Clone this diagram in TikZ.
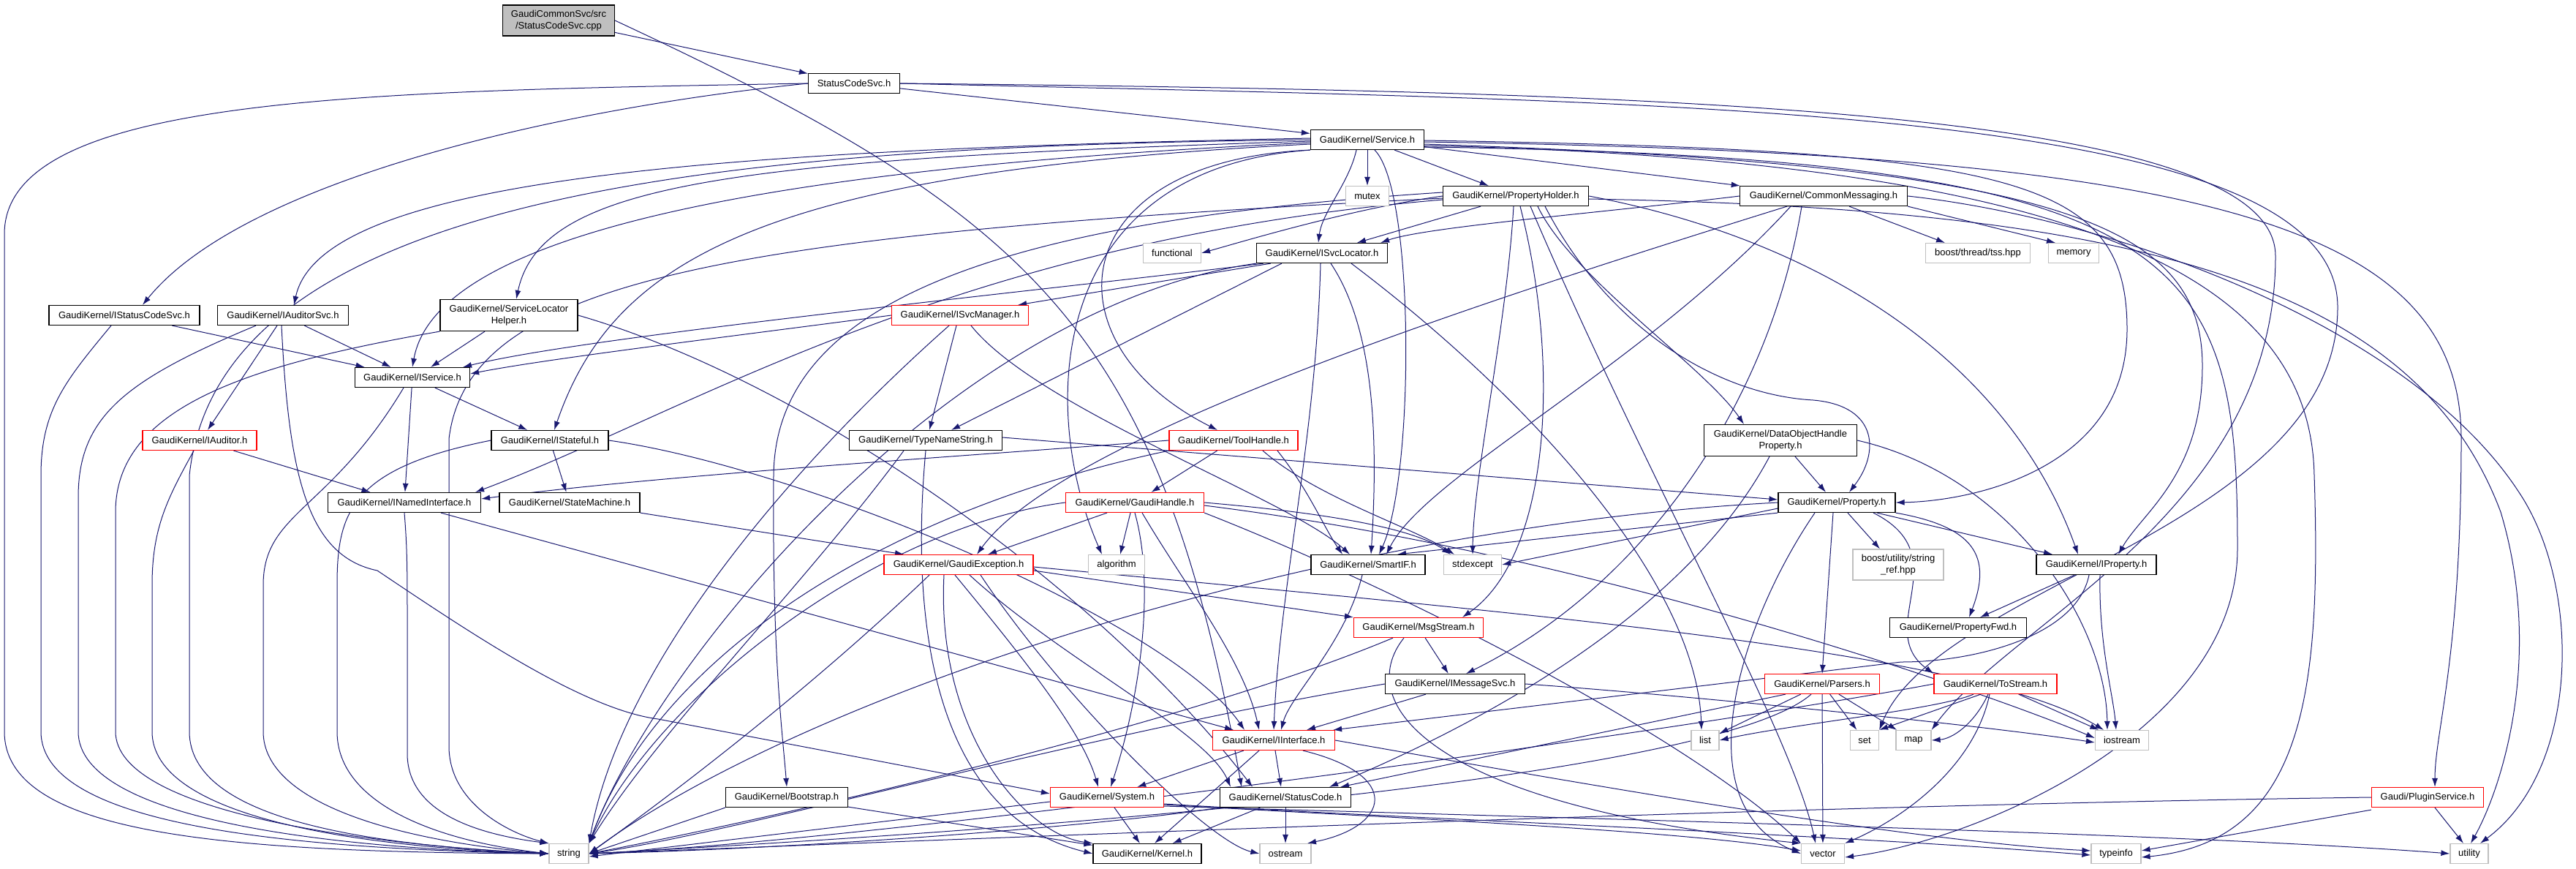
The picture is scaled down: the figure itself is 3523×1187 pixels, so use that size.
\documentclass[tikz,border=0pt]{standalone}
\usepackage{fontspec}
\setmainfont{Liberation Sans}
\usetikzlibrary{arrows.meta,backgrounds}
\definecolor{edgeblue}{HTML}{191970}
\definecolor{sysgray}{HTML}{BFBFBF}
\begin{document}
\begin{tikzpicture}[x=1pt, y=1pt,
    filenode/.style={draw=black, fill=white, line width=1.2pt, inner sep=0pt,
      minimum height=27pt, align=center, font=\fontsize{13}{16}\selectfont},
    rednode/.style={filenode, draw=red},
    sysnode/.style={filenode, draw=sysgray},
    rootnode/.style={filenode, fill=sysgray, minimum height=42pt},
    dep/.style={-{Latex[length=12pt, width=8pt]}, draw=edgeblue, line width=1pt}]
  \useasboundingbox (0,0) rectangle (3523,-1187);
  % Place nodes
  \node[rootnode, minimum width=153pt] (root) at (764,-28) {GaudiCommonSvc/src\\/StatusCodeSvc.cpp};
  \node[filenode, minimum width=125pt] (scsvch)      at (1168,-114) {StatusCodeSvc.h};
  \node[filenode, minimum width=155pt] (service)     at (1870,-191) {GaudiKernel/Service.h};
  \node[sysnode,  minimum width=59pt]  (mutex)       at (1870,-268) {mutex};
  \node[filenode, minimum width=199pt] (propholder)  at (2073,-268) {GaudiKernel/PropertyHolder.h};
  \node[filenode, minimum width=229pt] (commsg)      at (2494,-268) {GaudiKernel/CommonMessaging.h};
  \node[sysnode,  minimum width=79pt]  (functional)  at (1603,-346) {functional};
  \node[filenode, minimum width=179pt] (svcloc)      at (1808,-346) {GaudiKernel/ISvcLocator.h};
  \node[sysnode,  minimum width=143pt] (tss)         at (2705,-346) {boost/thread/tss.hpp};
  \node[sysnode,  minimum width=69pt]  (memory)      at (2836,-346) {memory};
  \node[filenode, minimum width=206pt] (istatus)     at (170,-431)  {GaudiKernel/IStatusCodeSvc.h};
  \node[filenode, minimum width=179pt] (iauditorsvc) at (387,-431)  {GaudiKernel/IAuditorSvc.h};
  \node[filenode, minimum width=188pt, minimum height=43pt] (slhelper) at (696,-431) {GaudiKernel/ServiceLocator\\Helper.h};
  \node[rednode,  minimum width=187pt] (isvcmgr)     at (1313,-431) {GaudiKernel/ISvcManager.h};
  \node[filenode, minimum width=157pt] (iservice)    at (564,-516)  {GaudiKernel/IService.h};
  \node[rednode,  minimum width=156pt] (iauditor)    at (273,-602)  {GaudiKernel/IAuditor.h};
  \node[filenode, minimum width=160pt] (istateful)   at (752,-602)  {GaudiKernel/IStateful.h};
  \node[filenode, minimum width=209pt] (typename)    at (1266,-602) {GaudiKernel/TypeNameString.h};
  \node[rednode,  minimum width=176pt] (toolhandle)  at (1687,-602) {GaudiKernel/ToolHandle.h};
  \node[filenode, minimum width=209pt, minimum height=43pt] (dohprop) at (2435,-602) {GaudiKernel/DataObjectHandle\\Property.h};
  \node[filenode, minimum width=209pt] (inamed)      at (553,-687)  {GaudiKernel/INamedInterface.h};
  \node[filenode, minimum width=192pt] (statemach)   at (779,-687)  {GaudiKernel/StateMachine.h};
  \node[rednode,  minimum width=189pt] (gaudihandle) at (1552,-687) {GaudiKernel/GaudiHandle.h};
  \node[filenode, minimum width=160pt] (property)    at (2512,-687) {GaudiKernel/Property.h};
  \node[rednode,  minimum width=204pt] (gexception)  at (1311,-772) {GaudiKernel/GaudiException.h};
  \node[sysnode,  minimum width=77pt]  (algorithm)   at (1527,-772) {algorithm};
  \node[filenode, minimum width=156pt] (smartif)     at (1871,-772) {GaudiKernel/SmartIF.h};
  \node[sysnode,  minimum width=79pt]  (stdexcept)   at (2014,-772) {stdexcept};
  \node[sysnode,  minimum width=124pt, minimum height=42pt] (stringref) at (2596,-772) {boost/utility/string\\\_ref.hpp};
  \node[filenode, minimum width=164pt] (iproperty)   at (2867,-772) {GaudiKernel/IProperty.h};
  \node[rednode,  minimum width=177pt] (msgstream)   at (1940,-858) {GaudiKernel/MsgStream.h};
  \node[filenode, minimum width=187pt] (propfwd)     at (2678,-858) {GaudiKernel/PropertyFwd.h};
  \node[filenode, minimum width=191pt] (imsgsvc)     at (1990,-935) {GaudiKernel/IMessageSvc.h};
  \node[rednode,  minimum width=157pt] (parsers)     at (2492,-935) {GaudiKernel/Parsers.h};
  \node[rednode,  minimum width=168pt] (tostream)    at (2729,-935) {GaudiKernel/ToStream.h};
  \node[rednode,  minimum width=167pt] (interface)   at (1742,-1012) {GaudiKernel/IInterface.h};
  \node[sysnode,  minimum width=38pt]  (list)        at (2332,-1012) {list};
  \node[sysnode,  minimum width=39pt]  (set)         at (2550,-1012) {set};
  \node[sysnode,  minimum width=48pt]  (map)         at (2617,-1012) {map};
  \node[sysnode,  minimum width=73pt]  (iostream)    at (2902,-1012) {iostream};
  \node[filenode, minimum width=167pt] (bootstrap)   at (1076,-1090) {GaudiKernel/Bootstrap.h};
  \node[rednode,  minimum width=155pt] (system)      at (1514,-1090) {GaudiKernel/System.h};
  \node[filenode, minimum width=179pt] (statuscode)  at (1758,-1090) {GaudiKernel/StatusCode.h};
  \node[rednode,  minimum width=153pt] (plugin)      at (3320,-1090) {Gaudi/PluginService.h};
  \node[sysnode,  minimum width=54pt]  (string)      at (778,-1167)  {string};
  \node[filenode, minimum width=148pt] (kernel)      at (1569,-1167) {GaudiKernel/Kernel.h};
  \node[sysnode,  minimum width=70pt]  (ostream)     at (1758,-1167) {ostream};
  \node[sysnode,  minimum width=59pt]  (vector)      at (2493,-1167) {vector};
  \node[sysnode,  minimum width=68pt]  (typeinfo)    at (2894,-1167) {typeinfo};
  \node[sysnode,  minimum width=52pt]  (utility)     at (3377,-1167) {utility};
  % Create edges
  \begin{scope}[on background layer]
  % From the source file
    \draw[dep] (root) -- (scsvch);
    \draw[dep] (root.east) .. controls (1418,-297) and (1587,-450) .. ([xshift=-60pt]statuscode.north);
  % StatusCodeSvc.h
    \draw[dep] (scsvch) -- (service);
    \draw[dep] (scsvch.west) .. controls (750,-150) and (330,-250) .. ([xshift=25pt]istatus.north);
    \draw[dep] (scsvch.west) .. controls (500,-125) and (6,-130) .. (6,-320) -- (6,-1000) .. controls (6,-1140) and (300,-1165) .. (string.west);
    \draw[dep] (scsvch.east) .. controls (2300,-140) and (3197,-140) .. (3197,-420) .. controls (3197,-720) and (2650,-800) .. (set.north east);
    \draw[dep] (scsvch.east) .. controls (2300,-125) and (3112,-150) .. (3112,-350) .. controls (3112,-700) and (2750,-850) .. (map.north east);
  % Service.h
    \draw[dep] (service) -- (mutex);
    \draw[dep] (service) -- (propholder);
    \draw[dep] (service) -- (commsg);
    \draw[dep] ([xshift=-15pt]service.south) .. controls (1845,-250) and (1808,-290) .. ([xshift=-5pt]svcloc.north);
    \draw[dep] ([yshift=2pt]service.west) .. controls (1000,-205) and (440,-240) .. ([xshift=15pt]iauditorsvc.north);
    \draw[dep] ([yshift=-2pt]service.west) .. controls (1000,-218) and (740,-250) .. ([xshift=10pt]slhelper.north);
    \draw[dep] ([yshift=-4pt]service.west) .. controls (1150,-225) and (600,-300) .. (iservice.north);
    \draw[dep] ([yshift=-6pt]service.west) .. controls (1050,-235) and (840,-350) .. ([xshift=6pt]istateful.north);
    \draw[dep] (service.south west) .. controls (1450,-220) and (1430,-470) .. ([xshift=-22pt]toolhandle.north);
    \draw[dep] (service.south west) .. controls (1430,-230) and (1420,-560) .. ([xshift=-20pt]algorithm.north);
    \draw[dep] ([xshift=10pt]service.south) .. controls (1935,-260) and (1935,-650) .. ([xshift=15pt]smartif.north);
    \draw[dep] ([yshift=-1pt]service.east) .. controls (2750,-205) and (2909,-240) .. (2909,-450) .. controls (2909,-640) and (2700,-685) .. (property.east);
    \draw[dep] ([yshift=-6pt]service.east) .. controls (2800,-225) and (3012,-300) .. (3012,-500) .. controls (3012,-650) and (2930,-700) .. ([xshift=30pt]iproperty.north);
    \draw[dep] ([yshift=-3pt]service.east) .. controls (3000,-210) and (3366,-300) .. (3366,-600) .. controls (3366,-900) and (3330,-1000) .. ([xshift=10pt]plugin.north);
    \draw[dep] ([yshift=-8pt]service.east) .. controls (2900,-220) and (3160,-400) .. (3165,-650) .. controls (3175,-950) and (3150,-1150) .. ([yshift=-5pt]typeinfo.east);
    \draw[dep] ([yshift=-10pt]service.east) .. controls (3000,-215) and (3060,-350) .. (3060,-750) .. controls (3060,-1000) and (2700,-1150) .. ([yshift=-5pt]vector.east);
    \draw[dep] (service.west) .. controls (1000,-200) and (300,-260) .. (259,-650) -- (259,-1000) .. controls (259,-1120) and (500,-1155) .. (string.west);
  % PropertyHolder.h
    \draw[dep] (propholder.west) .. controls (1850,-285) and (1700,-330) .. (functional.east);
    \draw[dep] (propholder) -- (svcloc);
    \draw[dep] ([yshift=-5pt]propholder.west) .. controls (1300,-330) and (950,-560) .. ([xshift=-8pt]inamed.north east);
    \draw[dep] ([xshift=30pt]propholder.south) .. controls (2150,-380) and (2330,-500) .. ([xshift=-50pt]dohprop.north);
    \draw[dep] ([xshift=40pt]propholder.south) .. controls (2200,-450) and (2350,-540) .. (2480,-547) .. controls (2570,-555) and (2570,-620) .. ([xshift=17pt]property.north);
    \draw[dep] (propholder.east) .. controls (2500,-330) and (2750,-500) .. ([xshift=-25pt]iproperty.north);
    \draw[dep] ([xshift=-3pt]propholder.south) .. controls (2060,-450) and (2015,-650) .. (stdexcept.north);
    \draw[dep] ([yshift=5pt]propholder.west) .. controls (1400,-300) and (1060,-400) .. (1058,-650) .. controls (1056,-900) and (1070,-1000) .. (bootstrap.north);
    \draw[dep] ([xshift=6pt]propholder.south) .. controls (2135,-500) and (2120,-760) .. ([xshift=60pt]msgstream.north);
    \draw[dep] ([xshift=20pt]propholder.south) .. controls (2250,-650) and (2450,-1000) .. ([xshift=-10pt]vector.north);
    \draw[dep] ([yshift=-3pt]propholder.west) .. controls (1000,-320) and (640,-380) .. (614,-600) -- (614,-1020) .. controls (614,-1100) and (700,-1140) .. (string.north west);
    \draw[dep] ([yshift=-4pt]propholder.east) .. controls (2900,-285) and (3300,-380) .. (3420,-700) .. controls (3480,-900) and (3420,-1080) .. ([xshift=2pt]utility.north);
  % CommonMessaging.h
    \draw[dep] (commsg.west) .. controls (2200,-290) and (1950,-310) .. ([xshift=-10pt]svcloc.north east);
    \draw[dep] ([xshift=35pt]commsg.south) -- ([xshift=-45pt]tss.north);
    \draw[dep] (commsg.south east) -- ([xshift=-25pt]memory.north);
    \draw[dep] ([xshift=-50pt]commsg.south) .. controls (2000,-420) and (1450,-600) .. ([xshift=25pt]gexception.north);
    \draw[dep] ([xshift=-30pt]commsg.south) .. controls (2420,-550) and (2250,-800) .. ([xshift=15pt]imsgsvc.north);
    \draw[dep] ([xshift=-45pt]commsg.south) .. controls (2250,-500) and (1950,-650) .. ([xshift=25pt]smartif.north);
    \draw[dep] (commsg.east) .. controls (2900,-300) and (3300,-450) .. (3445,-673) .. controls (3530,-800) and (3530,-1050) .. ([xshift=15pt]utility.north);
  % ISvcLocator.h
    \draw[dep] ([xshift=20pt]svcloc.south west) -- ([xshift=-15pt]isvcmgr.north east);
    \draw[dep] ([xshift=10pt]svcloc.south west) .. controls (1400,-400) and (800,-460) .. ([xshift=-10pt]iservice.north east);
    \draw[dep] ([xshift=35pt]svcloc.south west) -- ([xshift=35pt]typename.north);
    \draw[dep] ([xshift=12pt]svcloc.south) .. controls (1880,-450) and (1885,-600) .. ([xshift=4pt]smartif.north);
    \draw[dep] ([xshift=-2pt]svcloc.south) .. controls (1800,-600) and (1750,-800) .. (interface.north);
    \draw[dep] ([xshift=40pt]svcloc.south) .. controls (2100,-550) and (2320,-800) .. ([xshift=-5pt]list.north);
    \draw[dep] (svcloc.south west) .. controls (1300,-420) and (900,-900) .. (string.north east);
  % Left column
    \draw[dep] (istatus) -- (iservice);
    \draw[dep] ([xshift=-18pt]istatus.south) .. controls (90,-520) and (56,-560) .. (56,-650) -- (56,-1000) .. controls (56,-1130) and (400,-1160) .. (string.west);
    \draw[dep] (iauditorsvc) -- (iservice);
    \draw[dep] ([xshift=-8pt]iauditorsvc.south) -- ([xshift=11pt]iauditor.north);
    \draw[dep] ([xshift=-37pt]iauditorsvc.south) .. controls (170,-520) and (107,-570) .. (107,-680) -- (107,-1000) .. controls (107,-1120) and (450,-1160) .. (string.west);
    \draw[dep] ([xshift=-2pt]iauditorsvc.south) .. controls (395,-650) and (420,-760) .. (516,-780) .. controls (650,-870) and (800,-970) .. (900,-983) -- ([yshift=5pt]system.west);
    \draw[dep] ([xshift=-33pt]slhelper.south) -- ([xshift=25pt]iservice.north);
    \draw[dep] (slhelper.south west) .. controls (330,-500) and (158,-560) .. (158,-700) -- (158,-1000) .. controls (158,-1110) and (500,-1155) .. (string.west);
    \draw[dep] (slhelper.east) .. controls (1100,-520) and (1500,-800) .. ([xshift=-45pt]statuscode.north);
    \draw[dep] (isvcmgr.west) .. controls (1000,-460) and (750,-490) .. ([yshift=5pt]iservice.east);
    \draw[dep] ([xshift=-5pt]isvcmgr.south) -- ([xshift=5pt]typename.north);
    \draw[dep] ([xshift=15pt]isvcmgr.south) .. controls (1420,-560) and (1760,-680) .. ([xshift=-25pt]smartif.north);
    \draw[dep] ([xshift=-15pt]isvcmgr.south) .. controls (1100,-620) and (850,-900) .. (string.north east);
    \draw[dep] (iservice) -- (istateful);
    \draw[dep] (iservice) -- (inamed);
    \draw[dep] ([xshift=-12pt]iservice.south) .. controls (450,-700) and (360,-700) .. (360,-800) -- (360,-1000) .. controls (360,-1100) and (550,-1150) .. (string.west);
    \draw[dep] (iauditor) -- (inamed);
    \draw[dep] ([xshift=-8pt]iauditor.south) .. controls (230,-680) and (208,-720) .. (208,-800) -- (208,-1000) .. controls (208,-1115) and (480,-1158) .. (string.west);
    \draw[dep] (istateful) -- (statemach);
    \draw[dep] (istateful.east) .. controls (1100,-640) and (1600,-850) .. ([xshift=-40pt]interface.north);
    \draw[dep] (istateful.west) .. controls (480,-640) and (461,-700) .. (461,-800) -- (461,-1000) .. controls (461,-1100) and (600,-1150) .. (string.west);
  % Middle
    \draw[dep] ([yshift=4pt]typename.east) -- ([yshift=4pt]property.west);
    \draw[dep] (typename.south) .. controls (1240,-900) and (1300,-1120) .. (kernel.west);
    \draw[dep] ([xshift=-30pt]typename.south) .. controls (1100,-800) and (900,-1000) .. (string.north east);
    \draw[dep] (toolhandle) -- (gaudihandle);
    \draw[dep] (toolhandle.west) .. controls (1300,-625) and (900,-650) .. ([yshift=5pt]inamed.east);
    \draw[dep] ([xshift=60pt]toolhandle.south) .. controls (1790,-670) and (1810,-720) .. ([xshift=-35pt]smartif.north);
    \draw[dep] ([xshift=40pt]toolhandle.south) .. controls (1800,-680) and (1930,-720) .. ([xshift=-25pt]stdexcept.north);
    \draw[dep] (toolhandle.south west) .. controls (1200,-700) and (900,-900) .. (string.north east);
    \draw[dep] ([xshift=20pt]dohprop.south) -- ([xshift=-15pt]property.north);
    \draw[dep] ([xshift=-15pt]dohprop.south) .. controls (2300,-850) and (2000,-1000) .. ([xshift=60pt]statuscode.north);
    \draw[dep] (dohprop.east) .. controls (2750,-650) and (2880,-850) .. ([xshift=-20pt]iostream.north);
    \draw[dep] ([xshift=50pt]inamed.south) -- ([xshift=-55pt]interface.north);
    \draw[dep] (inamed.south) .. controls (557,-750) and (557,-780) .. (557,-850) -- (557,-1030) .. controls (557,-1110) and (650,-1140) .. (string.north west);
    \draw[dep] (statemach.south east) -- ([xshift=-75pt]gexception.north);
    \draw[dep] ([xshift=-38pt]gaudihandle.south) -- ([xshift=40pt]gexception.north);
    \draw[dep] ([xshift=-6pt]gaudihandle.south) -- ([xshift=5pt]algorithm.north);
    \draw[dep] (gaudihandle.east) .. controls (1800,-700) and (1930,-720) .. ([xshift=-30pt]stdexcept.north);
    \draw[dep] (gaudihandle.south) .. controls (1580,-800) and (1560,-950) .. ([xshift=5pt]system.north);
    \draw[dep] ([xshift=10pt]gaudihandle.south) .. controls (1620,-800) and (1700,-900) .. ([xshift=-20pt]interface.north);
    \draw[dep] ([yshift=-4pt]gaudihandle.east) .. controls (2200,-760) and (2750,-960) .. ([yshift=3pt]iostream.west);
    \draw[dep] (gaudihandle.south east) .. controls (1900,-800) and (2300,-1000) .. (vector.north west);
    \draw[dep] (gaudihandle.west) .. controls (1200,-720) and (900,-950) .. (string.north east);
  % Property.h
    \draw[dep] (property.south west) -- ([xshift=40pt]smartif.north);
    \draw[dep] ([yshift=-8pt]property.west) -- (stdexcept.east);
    \draw[dep] ([xshift=15pt]property.south) -- ([xshift=-25pt]stringref.north);
    \draw[dep] ([xshift=55pt]property.south) -- ([xshift=-60pt]iproperty.north);
    \draw[dep] (property.south east) .. controls (2700,-720) and (2725,-760) .. ([xshift=15pt]propfwd.north);
    \draw[dep] ([xshift=-5pt]property.south) -- (parsers.north);
    \draw[dep] ([xshift=50pt]property.south) .. controls (2680,-760) and (2560,-860) .. (tostream.north west);
    \draw[dep] (property.west) .. controls (1800,-720) and (1100,-950) .. (string.east);
    \draw[dep] ([xshift=-30pt]property.south) .. controls (2380,-850) and (2300,-1100) .. (vector.west);
  % GaudiException.h and lower
    \draw[dep] ([yshift=-8pt]gexception.east) -- (msgstream.north west);
    \draw[dep] ([xshift=-5pt]gexception.south) .. controls (1400,-900) and (1480,-1000) .. ([xshift=-12pt]system.north);
    \draw[dep] ([xshift=15pt]gexception.south) .. controls (1450,-900) and (1650,-1000) .. ([xshift=-75pt]statuscode.north);
    \draw[dep] ([xshift=-20pt]gexception.south) .. controls (1280,-1000) and (1400,-1140) .. (kernel.north west);
    \draw[dep] ([xshift=-40pt]gexception.south) .. controls (1100,-950) and (900,-1100) .. (string.east);
    \draw[dep] ([yshift=-3pt]gexception.east) .. controls (2100,-840) and (2700,-890) .. ([xshift=-25pt]iostream.north);
    \draw[dep] ([xshift=30pt]gexception.south) .. controls (1450,-950) and (1650,-1150) .. (ostream.west);
    \draw[dep] ([xshift=-8pt]smartif.south) .. controls (1840,-880) and (1765,-950) .. ([xshift=10pt]interface.north);
    \draw[dep] ([xshift=-30pt]iproperty.south) -- ([xshift=30pt]propfwd.north);
    \draw[dep] ([xshift=-10pt]iproperty.south) .. controls (2840,-870) and (2700,-905) .. (2600,-905) -- ([xshift=-3pt]interface.north east);
    \draw[dep] ([xshift=5pt]iproperty.south) .. controls (2870,-880) and (2890,-950) .. ([xshift=-8pt]iostream.north);
    \draw[dep] (msgstream) -- (imsgsvc);
    \draw[dep] ([xshift=-35pt]msgstream.south) .. controls (1600,-1000) and (1000,-1130) .. (string.east);
    \draw[dep] ([xshift=-20pt]msgstream.south) .. controls (1850,-960) and (1950,-1100) .. (vector.north west);
    \draw[dep] ([xshift=-40pt]imsgsvc.south) -- ([xshift=45pt]interface.north);
    \draw[dep] (imsgsvc.west) .. controls (1500,-1000) and (1000,-1140) .. (string.east);
    \draw[dep] (imsgsvc.east) .. controls (2300,-950) and (2700,-990) .. ([yshift=-3pt]iostream.west);
    \draw[dep] (parsers) -- (list);
    \draw[dep] (parsers) -- (set);
    \draw[dep] (parsers) -- (map);
    \draw[dep] (parsers) -- (vector);
    \draw[dep] ([xshift=-50pt]parsers.south) -- ([xshift=75pt]statuscode.north);
    \draw[dep] ([xshift=-15pt]parsers.south) .. controls (2350,-1060) and (1500,-1130) .. (string.east);
    \draw[dep] ([xshift=-30pt]tostream.south) .. controls (2650,-970) and (2450,-990) .. (list.east);
    \draw[dep] ([xshift=-20pt]tostream.south) -- (set.north east);
    \draw[dep] ([xshift=-10pt]tostream.south) .. controls (2700,-990) and (2670,-1010) .. (map.east);
    \draw[dep] (tostream) -- (iostream);
    \draw[dep] ([xshift=-8pt]tostream.south) .. controls (2700,-1050) and (2600,-1120) .. (vector.north east);
    \draw[dep] (tostream.west) .. controls (2300,-1000) and (1200,-1150) .. (string.east);
  % Bottom rows
    \draw[dep] (interface) -- (system);
    \draw[dep] ([xshift=-20pt]interface.south) -- ([xshift=10pt]kernel.north);
    \draw[dep] ([xshift=2pt]interface.south) -- ([xshift=-6pt]statuscode.north);
    \draw[dep] ([xshift=40pt]interface.south) .. controls (1920,-1060) and (1900,-1130) .. ([xshift=30pt]ostream.north);
    \draw[dep] (interface.east) .. controls (2100,-1060) and (2600,-1150) .. ([yshift=4pt]typeinfo.west);
    \draw[dep] (bootstrap) -- (kernel);
    \draw[dep] (bootstrap.south west) -- (string.east);
    \draw[dep] ([yshift=-6pt]system.west) -- ([yshift=-4pt]string.east);
    \draw[dep] (system) -- (kernel);
    \draw[dep] ([yshift=-9pt]system.east) .. controls (1900,-1118) and (2500,-1140) .. ([yshift=-2pt]typeinfo.west);
    \draw[dep] ([yshift=-10pt]system.east) .. controls (1900,-1118) and (2300,-1135) .. ([yshift=4pt]vector.west);
    \draw[dep] ([yshift=-12pt]system.east) .. controls (2200,-1120) and (3000,-1140) .. (utility.west);
    \draw[dep] (statuscode) -- (kernel);
    \draw[dep] (statuscode) -- (ostream);
    \draw[dep] (statuscode.south west) .. controls (1500,-1130) and (1100,-1160) .. (string.east);
    \draw[dep] (plugin.west) .. controls (2500,-1100) and (1500,-1140) .. (string.east);
    \draw[dep] ([yshift=-3pt]plugin.south west) -- ([yshift=4pt]typeinfo.east);
    \draw[dep] ([xshift=10pt]plugin.south) -- ([xshift=-8pt]utility.north);
  \end{scope}
\end{tikzpicture}
\end{document}
